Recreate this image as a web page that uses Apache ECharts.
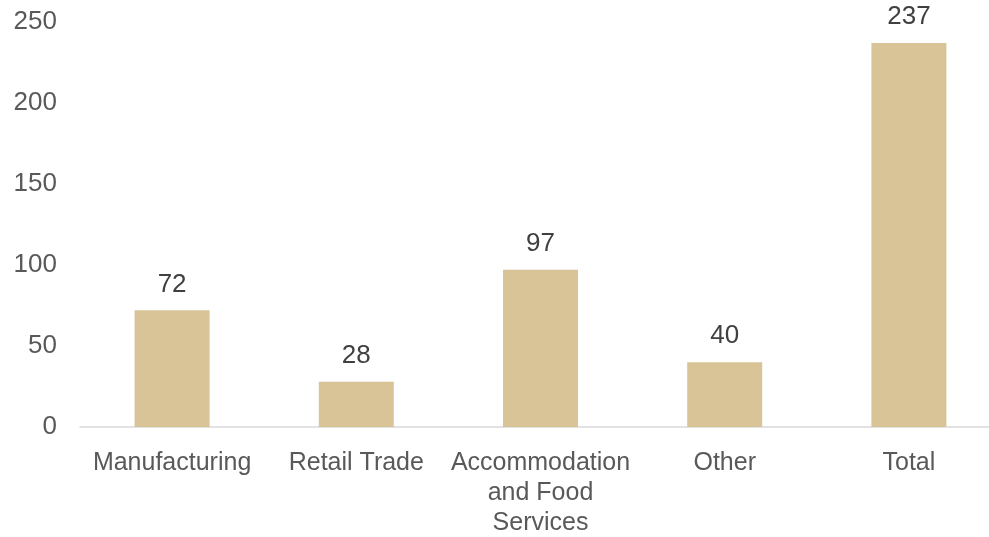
<!DOCTYPE html>
<html>
<head>
<meta charset="utf-8">
<script src="https://cdn.jsdelivr.net/npm/echarts@6/dist/echarts.min.js"></script>
<style>
    html, body { margin: 0; padding: 0; background: #fff; }
    #chart { width: 989px; height: 537px; }
</style>
</head>
<body>
<div id="chart"></div>
<script>
const categories = ['Manufacturing', 'Retail Trade', 'Accommodation\nand Food\nServices', 'Other', 'Total'];
const values = [72, 28, 97, 40, 237];
const yTicks = [0, 50, 100, 150, 200, 250];

let chartDom = document.getElementById('chart');
let myChart = echarts.init(chartDom);

const fontFamily = '"Liberation Sans", Arial, sans-serif';

const option = {
    animation: false,
    grid: {
        left: 80,
        top: 22,
        width: 921,
        bottom: 110,
        containLabel: false,
        outerBoundsMode: 'none',
    },
    xAxis: {
        type: 'category',
        data: categories,
        axisLine: {
            lineStyle: {color: '#d9d9d9', width: 1.5},
        },
        axisTick: {show: false},
        axisLabel: {
            color: '#595959',
            fontSize: 25,
            fontFamily,
            margin: 21,
            lineHeight: 30,
            interval: 0,
        },
    },
    yAxis: {
        type: 'value',
        min: yTicks[0],
        max: yTicks[yTicks.length - 1],
        interval: 50,
        splitLine: {show: false},
        axisLine: {show: false},
        axisTick: {show: false},
        axisLabel: {
            color: '#595959',
            fontSize: 26,
            fontFamily,
            margin: 23,
        },
    },
    series: [
        {
            type: 'bar',
            data: values,
            barWidth: 75,
            itemStyle: {color: '#d8c496'},
            label: {
                show: true,
                position: 'top',
                distance: 13,
                color: '#404040',
                fontSize: 26,
                fontFamily,
            },
        },
    ],
};

myChart.setOption(option);
</script>
</body>
</html>
